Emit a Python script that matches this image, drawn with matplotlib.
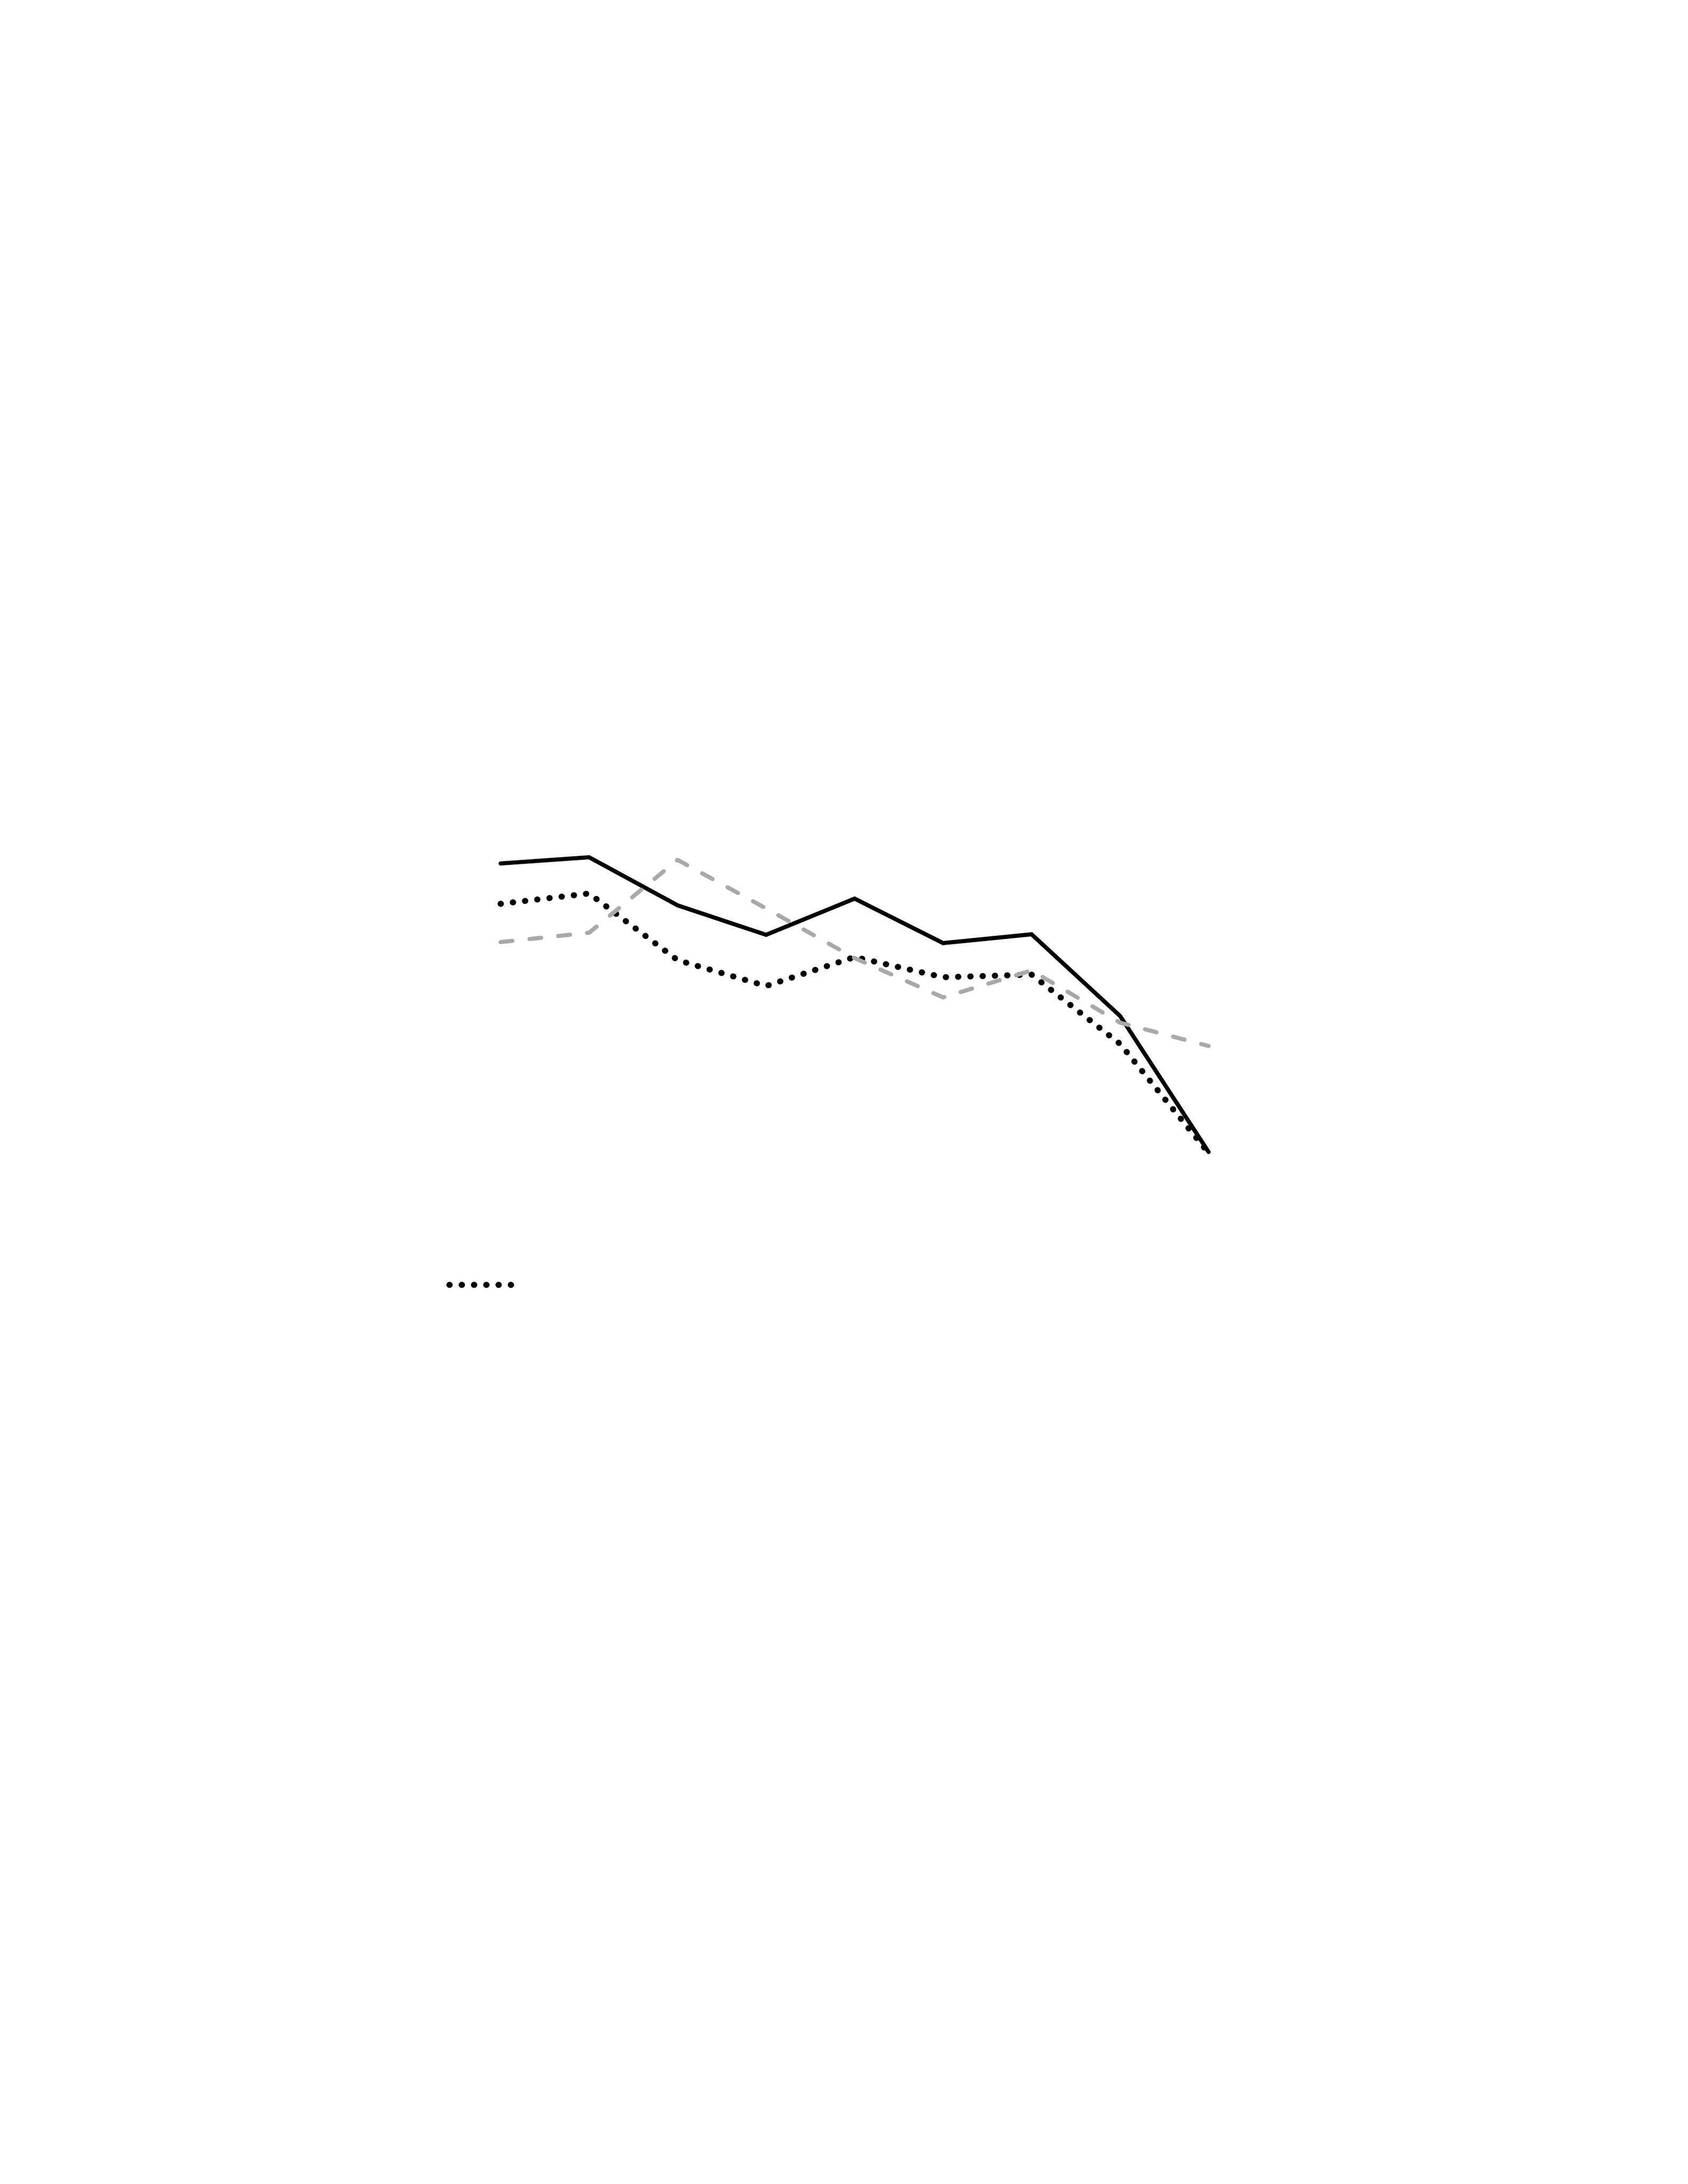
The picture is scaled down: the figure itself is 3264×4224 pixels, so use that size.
import matplotlib
matplotlib.use('Agg')
import matplotlib.pyplot as plt
import numpy as np

plt.rcParams['lines.scale_dashes'] = False

# 数据（无坐标轴，数值按图中相对高度读取）
periods = np.arange(9)
series_solid = [63.0, 64.2, 54.9, 49.2, 56.2, 47.6, 49.3, 33.5, 7.2]
series_dotted = [55.2, 57.2, 44.3, 39.3, 44.9, 41.0, 41.5, 28.1, 7.0]
series_dashed = [47.8, 49.6, 63.7, 54.3, 44.7, 37.1, 42.3, 32.2, 27.7]

W, H = 3264, 4224
DPI = 384
fig = plt.figure(figsize=(W / DPI, H / DPI), dpi=DPI)
fig.patch.set_facecolor('white')

# 绘图区位置（像素换算为 figure 比例）
x0, x1 = 968, 2337
y_top, y_bot = 1600, 2300
ax = fig.add_axes([x0 / W, 1 - y_bot / H, (x1 - x0) / W, (y_bot - y_top) / H])
ax.set_xlim(0, 8)
ax.set_ylim(0, 70)
ax.axis('off')

ax.plot(periods, series_solid, color='black', lw=1.5,
        solid_joinstyle='miter', solid_capstyle='round', clip_on=False)
l_dot, = ax.plot(periods, series_dotted, color='black', lw=2.2,
                 dashes=(0.1, 4.35), dash_capstyle='round', clip_on=False)
ax.plot(periods, series_dashed, color='#a9a9a9', lw=1.5,
        dashes=(4.3, 6.2), dash_capstyle='round', clip_on=False)

# 图例只剩下点线句柄
fs = 10
hl = 121 / (fs * DPI / 72)
ax.legend(handles=[l_dot], labels=[''], loc='center left',
          bbox_to_anchor=(869 / W, 1 - 2489 / H), bbox_transform=fig.transFigure,
          frameon=False, fontsize=fs, handlelength=hl, borderpad=0,
          borderaxespad=0, handletextpad=0.2)

fig.savefig('out.png', dpi=DPI, facecolor='white')
